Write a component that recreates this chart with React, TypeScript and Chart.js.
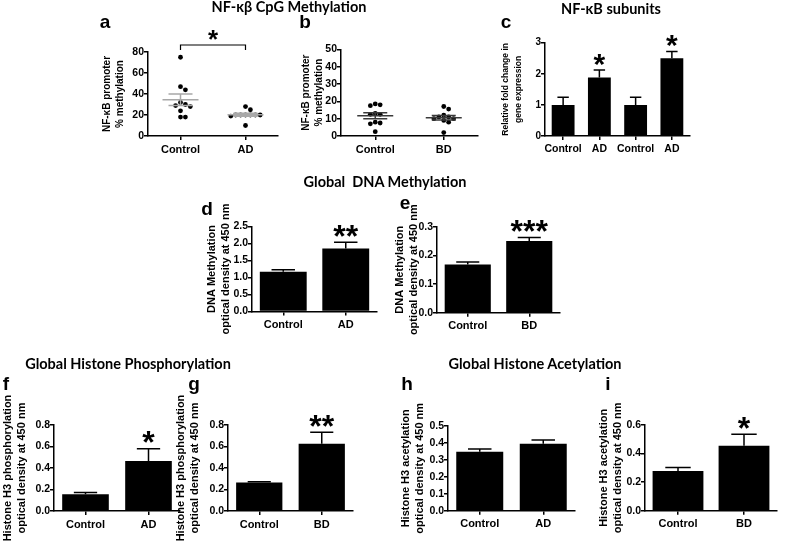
import React, { useEffect, useRef } from "react";
import { Chart, registerables } from "chart.js";

Chart.register(...registerables);

// ---------------- DATA ----------------
const adGroups = ["Control", "AD"];
const bdGroups = ["Control", "BD"];
const subunitGroups = ["Control", "AD", "Control", "AD"];

// a: NF-κB promoter % methylation, Control vs AD
const aControl = [75, 47, 44, 32, 30, 29, 28, 24, 18, 18];
const aAD = [28, 25, 20, 20, 20, 20, 20, 20, 19, 10];
const aTicks = ["0", "20", "40", "60", "80"];

// b: NF-κB promoter % methylation, Control vs BD
const bControl = [18.5, 18, 17.5, 13, 12.5, 12.5, 8, 7.5, 7, 2.5];
const bBD = [17, 15.5, 12, 11, 11, 10, 10, 9, 8, 2];
const bTicks = ["0", "10", "20", "30", "40", "50"];

// c: NF-κB subunits, relative fold change
const cValues = [1.0, 1.88, 1.0, 2.5];
const cErrors = [0.25, 0.24, 0.25, 0.22];
const cStars = ["", "*", "", "*"];
const cTicks = ["0", "1", "2", "3"];

// d: global DNA methylation (AD)
const dValues = [1.17, 1.85];
const dErrors = [0.055, 0.19];
const dStars = ["", "**"];
const dTicks = ["0.0", "0.5", "1.0", "1.5", "2.0", "2.5"];

// e: global DNA methylation (BD)
const eValues = [0.168, 0.25];
const eErrors = [0.009, 0.012];
const eStars = ["", "***"];
const eTicks = ["0.0", "0.1", "0.2", "0.3"];

// f: histone H3 phosphorylation (AD)
const fValues = [0.155, 0.465];
const fErrors = [0.018, 0.115];
const fStars = ["", "*"];
const fTicks = ["0.0", "0.2", "0.4", "0.6", "0.8"];

// g: histone H3 phosphorylation (BD)
const gValues = [0.265, 0.625];
const gErrors = [0.008, 0.108];
const gStars = ["", "**"];
const gTicks = ["0.0", "0.2", "0.4", "0.6", "0.8"];

// h: histone H3 acetylation (AD)
const hValues = [0.348, 0.395];
const hErrors = [0.016, 0.022];
const hStars = ["", ""];
const hTicks = ["0.0", "0.1", "0.2", "0.3", "0.4", "0.5"];

// i: histone H3 acetylation (BD)
const iValues = [0.278, 0.455];
const iErrors = [0.025, 0.08];
const iStars = ["", "*"];
const iTicks = ["0.0", "0.2", "0.4", "0.6"];

// ---------------- LAYOUT / STYLE ----------------
const W = 785;
const H = 542;
const FONT = "'Liberation Sans', Arial, Helvetica, sans-serif";
const TITLE_FONT = "Lato, 'Open Sans', sans-serif";

Chart.defaults.font.family = FONT;
Chart.defaults.color = "#000";

type Geo = { l: number; r: number; t: number; b: number; titleX: number; titleSize: number; lh: number; tickSize: number };

const geoA: Geo = { l: 148, r: 278, t: 52, b: 136, titleX: 107, titleSize: 10, lh: 1.3, tickSize: 10.5 };
const geoB: Geo = { l: 341, r: 478, t: 49.3, b: 136, titleX: 306, titleSize: 10, lh: 1.3, tickSize: 10.5 };
const geoC: Geo = { l: 545, r: 690, t: 42.7, b: 136, titleX: 505.5, titleSize: 8.5, lh: 1.6, tickSize: 10 };
const geoD: Geo = { l: 252, r: 377, t: 226.5, b: 311.5, titleX: 212, titleSize: 11, lh: 1.27, tickSize: 10.5 };
const geoE: Geo = { l: 437, r: 560, t: 226.7, b: 312.7, titleX: 400, titleSize: 11, lh: 1.27, tickSize: 10.5 };
const geoF: Geo = { l: 54, r: 180, t: 425, b: 511, titleX: 8, titleSize: 11, lh: 1.27, tickSize: 10.5 };
const geoG: Geo = { l: 228, r: 353, t: 425, b: 511, titleX: 181, titleSize: 11, lh: 1.27, tickSize: 10.5 };
const geoH: Geo = { l: 448, r: 575, t: 426, b: 510.7, titleX: 406, titleSize: 11, lh: 1.27, tickSize: 10.5 };
const geoI: Geo = { l: 645, r: 777, t: 425, b: 510.7, titleX: 604, titleSize: 11, lh: 1.27, tickSize: 10.5 };

const X_H = 24;

function padding(geo: Geo) {
  const yW = geo.l - (geo.titleX - (geo.titleSize * geo.lh) / 2);
  return { left: geo.l - yW, top: geo.t, right: W - geo.r, bottom: H - geo.b - X_H, yW };
}

function yScale(ticks: string[], title: string[], geo: Geo) {
  const vals = ticks.map(Number);
  const p = padding(geo);
  return {
    type: "linear",
    min: vals[0],
    max: vals[vals.length - 1],
    afterBuildTicks: (s: any) => {
      s.ticks = vals.map((v) => ({ value: v }));
    },
    afterFit: (s: any) => {
      s.width = p.yW;
    },
    ticks: {
      color: "#000",
      font: { size: geo.tickSize, weight: "bold", family: FONT },
      padding: 0,
      callback: (_v: any, idx: number) => ticks[idx],
    },
    grid: { display: true, drawOnChartArea: false, drawTicks: true, tickLength: 4, color: "#000", lineWidth: 1.5 },
    border: { display: true, color: "#000", width: 1.5 },
    title: {
      display: true,
      text: title,
      color: "#000",
      padding: 0,
      font: { size: geo.titleSize, weight: "bold", family: FONT, lineHeight: geo.lh },
    },
  };
}

function xCommon() {
  return {
    grid: { display: true, drawOnChartArea: false, drawTicks: true, tickLength: 4, color: "#000", lineWidth: 1.5, offset: false },
    border: { display: true, color: "#000", width: 1.5 },
    afterFit: (s: any) => {
      s.height = X_H;
    },
  };
}

// error bars + significance stars on bar charts
const errorBarPlugin = {
  id: "errbars",
  afterDatasetsDraw(chart: any, _args: any, opts: any) {
    const { errors, stars, starSize, starGap } = opts;
    if (!errors) return;
    const meta = chart.getDatasetMeta(0);
    const y = chart.scales.y;
    const ctx = chart.ctx;
    const data = chart.data.datasets[0].data;
    ctx.save();
    ctx.strokeStyle = "#000";
    ctx.lineWidth = 1.5;
    meta.data.forEach((bar: any, i: number) => {
      const v = data[i];
      const top = y.getPixelForValue(v + errors[i]);
      const half = bar.width / 4;
      ctx.beginPath();
      ctx.moveTo(bar.x, bar.y);
      ctx.lineTo(bar.x, top);
      ctx.moveTo(bar.x - half, top);
      ctx.lineTo(bar.x + half, top);
      ctx.stroke();
      if (stars && stars[i]) {
        ctx.fillStyle = "#000";
        ctx.font = `bold ${starSize}px ${FONT}`;
        ctx.textAlign = "center";
        ctx.textBaseline = "alphabetic";
        ctx.fillText(stars[i], bar.x, top - starGap + 0.45 * starSize);
      }
    });
    ctx.restore();
  },
};

// mean ± SEM lines and significance bracket for scatter panels
const meanSemPlugin = {
  id: "meansem",
  afterDatasetsDraw(chart: any, _args: any, opts: any) {
    const { groups, color, meanHalf, semHalf, bracket } = opts;
    if (!groups) return;
    const x = chart.scales.x;
    const y = chart.scales.y;
    const ctx = chart.ctx;
    ctx.save();
    ctx.strokeStyle = color;
    ctx.lineWidth = 1.5;
    groups.forEach((vals: number[], gi: number) => {
      const n = vals.length;
      const mean = vals.reduce((s, v) => s + v, 0) / n;
      const sd = Math.sqrt(vals.reduce((s, v) => s + (v - mean) ** 2, 0) / (n - 1));
      const sem = sd / Math.sqrt(n);
      const cx = x.getPixelForValue(gi + 1);
      const ym = y.getPixelForValue(mean);
      const yu = y.getPixelForValue(mean + sem);
      const yl = y.getPixelForValue(mean - sem);
      ctx.beginPath();
      ctx.moveTo(cx - meanHalf, ym);
      ctx.lineTo(cx + meanHalf, ym);
      ctx.moveTo(cx - semHalf, yu);
      ctx.lineTo(cx + semHalf, yu);
      ctx.moveTo(cx - semHalf, yl);
      ctx.lineTo(cx + semHalf, yl);
      ctx.moveTo(cx, yu);
      ctx.lineTo(cx, yl);
      ctx.stroke();
    });
    if (bracket) {
      const x1 = x.getPixelForValue(bracket.from);
      const x2 = x.getPixelForValue(bracket.to);
      const top = chart.chartArea.top - bracket.rise;
      ctx.strokeStyle = "#000";
      ctx.lineWidth = 1.2;
      ctx.beginPath();
      ctx.moveTo(x1, top + bracket.drop);
      ctx.lineTo(x1, top);
      ctx.lineTo(x2, top);
      ctx.lineTo(x2, top + bracket.drop);
      ctx.stroke();
      ctx.fillStyle = "#000";
      ctx.font = `bold ${bracket.starSize}px ${FONT}`;
      ctx.textAlign = "center";
      ctx.textBaseline = "alphabetic";
      ctx.fillText(bracket.star, (x1 + x2) / 2, top - bracket.starGap + 0.45 * bracket.starSize);
    }
    ctx.restore();
  },
};

function swarm(values: number[], pxPerY: number, spacing: number): number[] {
  const placed: { dx: number; y: number }[] = [];
  const step = spacing / 4;
  return values.map((v) => {
    const yy = v * pxPerY;
    let dx = 0;
    for (let k = 0; k < 400; k++) {
      const cand = k === 0 ? 0 : (k % 2 ? 1 : -1) * Math.ceil(k / 2) * step;
      if (placed.every((p) => (p.dx - cand) ** 2 + (p.y - yy) ** 2 >= spacing * spacing - 0.01)) {
        dx = cand;
        break;
      }
    }
    placed.push({ dx, y: yy });
    return dx;
  });
}

function barConfig(labels: string[], values: number[], errors: number[], stars: string[], ticks: string[], title: string[], geo: Geo, barPct: number, starSize: number) {
  const p = padding(geo);
  return {
    type: "bar",
    data: {
      labels,
      datasets: [{ data: values, backgroundColor: "#000", borderWidth: 0, barPercentage: barPct, categoryPercentage: 1 }],
    },
    plugins: [errorBarPlugin],
    options: {
      animation: false,
      responsive: false,
      devicePixelRatio: 1,
      events: [],
      layout: { padding: { left: p.left, top: p.top, right: p.right, bottom: p.bottom } },
      plugins: {
        legend: { display: false },
        tooltip: { enabled: false },
        errbars: { errors, stars, starSize, starGap: 10 },
      },
      scales: {
        x: {
          type: "category",
          offset: true,
          ...xCommon(),
          ticks: { color: "#000", font: { size: geo.tickSize + 0.5, weight: "bold", family: FONT }, padding: 3, maxRotation: 0, minRotation: 0, autoSkip: false },
        },
        y: yScale(ticks, title, geo),
      },
    },
  };
}

function scatterConfig(groups: number[][], labels: string[], ticks: string[], title: string[], geo: Geo, lineColor: string, bracket: any) {
  const p = padding(geo);
  const vals = ticks.map(Number);
  const yMax = vals[vals.length - 1];
  const pxPerY = (geo.b - geo.t) / yMax;
  const pxPerX = (geo.r - geo.l) / 2;
  const datasets = groups.map((g, gi) => {
    const offs = swarm(g, pxPerY, 4.9);
    return {
      data: g.map((v, i) => ({ x: gi + 1 + offs[i] / pxPerX, y: v })),
      pointRadius: 2.4,
      pointBackgroundColor: "#000",
      pointBorderWidth: 0,
      showLine: false,
      clip: false,
    };
  });
  return {
    type: "scatter",
    data: { datasets },
    plugins: [meanSemPlugin],
    options: {
      animation: false,
      responsive: false,
      devicePixelRatio: 1,
      events: [],
      layout: { padding: { left: p.left, top: p.top, right: p.right, bottom: p.bottom } },
      plugins: {
        legend: { display: false },
        tooltip: { enabled: false },
        meansem: { groups, color: lineColor, meanHalf: 18, semHalf: 12, bracket },
      },
      scales: {
        x: {
          type: "linear",
          min: 0.5,
          max: 2.5,
          ...xCommon(),
          afterBuildTicks: (s: any) => {
            s.ticks = labels.map((_l, i) => ({ value: i + 1 }));
          },
          ticks: {
            color: "#000",
            font: { size: geo.tickSize + 0.5, weight: "bold", family: FONT },
            padding: 3,
            maxRotation: 0,
            minRotation: 0,
            autoSkip: false,
            callback: (_v: any, idx: number) => labels[idx],
          },
        },
        y: yScale(ticks, title, geo),
      },
    },
  };
}

const promoterTitle = ["NF-\u03baB promoter", "% methylation"];
const dnaTitle = ["DNA Methylation", "optical density at 450 nm"];
const phosTitle = ["Histone H3 phosphorylation", "optical density at 450 nm"];
const acetTitle = ["Histone H3 acetylation", "optical density at 450 nm"];

const makers: (() => any)[] = [
  () =>
    scatterConfig([aControl, aAD], adGroups, aTicks, promoterTitle, geoA, "#a8a8a8", {
      from: 1,
      to: 2,
      rise: 7,
      drop: 5,
      star: "*",
      starSize: 26,
      starGap: 9,
    }),
  () => scatterConfig([bControl, bBD], bdGroups, bTicks, promoterTitle, geoB, "#3a3a3a", null),
  () => barConfig(subunitGroups, cValues, cErrors, cStars, cTicks, ["Relative fold change in", "gene expression"], geoC, 0.63, 30),
  () => barConfig(adGroups, dValues, dErrors, dStars, dTicks, dnaTitle, geoD, 0.75, 32),
  () => barConfig(bdGroups, eValues, eErrors, eStars, eTicks, dnaTitle, geoE, 0.75, 32),
  () => barConfig(adGroups, fValues, fErrors, fStars, fTicks, phosTitle, geoF, 0.74, 32),
  () => barConfig(bdGroups, gValues, gErrors, gStars, gTicks, phosTitle, geoG, 0.74, 32),
  () => barConfig(adGroups, hValues, hErrors, hStars, hTicks, acetTitle, geoH, 0.74, 32),
  () => barConfig(bdGroups, iValues, iErrors, iStars, iTicks, acetTitle, geoI, 0.77, 32),
];

function ChartCanvas({ make }: { make: () => any }) {
  const ref = useRef<HTMLCanvasElement | null>(null);
  useEffect(() => {
    if (!ref.current) return;
    const chart = new Chart(ref.current, make());
    return () => chart.destroy();
  }, [make]);
  return (
    <canvas
      ref={ref}
      width={W}
      height={H}
      style={{ position: "absolute", left: 0, top: 0, width: W, height: H }}
    />
  );
}

type Txt = { text: string; x: number; base: number; size: number; family: string; asc: number };

const sectionTitles: Txt[] = [
  { text: "NF-\u03ba\u03b2 CpG Methylation", x: 289, base: 12.7, size: 14.5, family: TITLE_FONT, asc: 0.887 },
  { text: "NF-\u03baB subunits", x: 611, base: 15, size: 14.5, family: TITLE_FONT, asc: 0.887 },
  { text: "Global  DNA Methylation", x: 385, base: 188, size: 14.5, family: TITLE_FONT, asc: 0.887 },
  { text: "Global Histone Phosphorylation", x: 128, base: 370, size: 14.5, family: TITLE_FONT, asc: 0.887 },
  { text: "Global Histone Acetylation", x: 535, base: 370, size: 14.5, family: TITLE_FONT, asc: 0.887 },
];

const letters: Txt[] = [
  { text: "a", x: 105, base: 28.3, size: 19, family: FONT, asc: 0.8465 },
  { text: "b", x: 305, base: 28.3, size: 19, family: FONT, asc: 0.8465 },
  { text: "c", x: 506, base: 28.3, size: 19, family: FONT, asc: 0.8465 },
  { text: "d", x: 207, base: 215, size: 19, family: FONT, asc: 0.8465 },
  { text: "e", x: 405, base: 209, size: 19, family: FONT, asc: 0.8465 },
  { text: "f", x: 6, base: 390, size: 19, family: FONT, asc: 0.8465 },
  { text: "g", x: 194, base: 390, size: 19, family: FONT, asc: 0.8465 },
  { text: "h", x: 407, base: 390, size: 19, family: FONT, asc: 0.8465 },
  { text: "i", x: 608, base: 390, size: 19, family: FONT, asc: 0.8465 },
];

function TextLabel({ t }: { t: Txt }) {
  return (
    <div
      style={{
        position: "absolute",
        left: t.x,
        top: t.base - t.asc * t.size,
        transform: "translateX(-50%)",
        fontFamily: t.family,
        fontWeight: 700,
        fontSize: t.size,
        lineHeight: `${t.size}px`,
        whiteSpace: "pre",
        color: "#000",
        zIndex: 2,
      }}
    >
      {t.text}
    </div>
  );
}

export default function App() {
  return (
    <div
      style={{
        position: "absolute",
        left: 0,
        top: 0,
        width: W,
        height: H,
        background: "#fff",
        overflow: "hidden",
      }}
    >
      {makers.map((m, i) => (
        <ChartCanvas key={i} make={m} />
      ))}
      {sectionTitles.map((t, i) => (
        <TextLabel key={"s" + i} t={t} />
      ))}
      {letters.map((t, i) => (
        <TextLabel key={"l" + i} t={t} />
      ))}
    </div>
  );
}
